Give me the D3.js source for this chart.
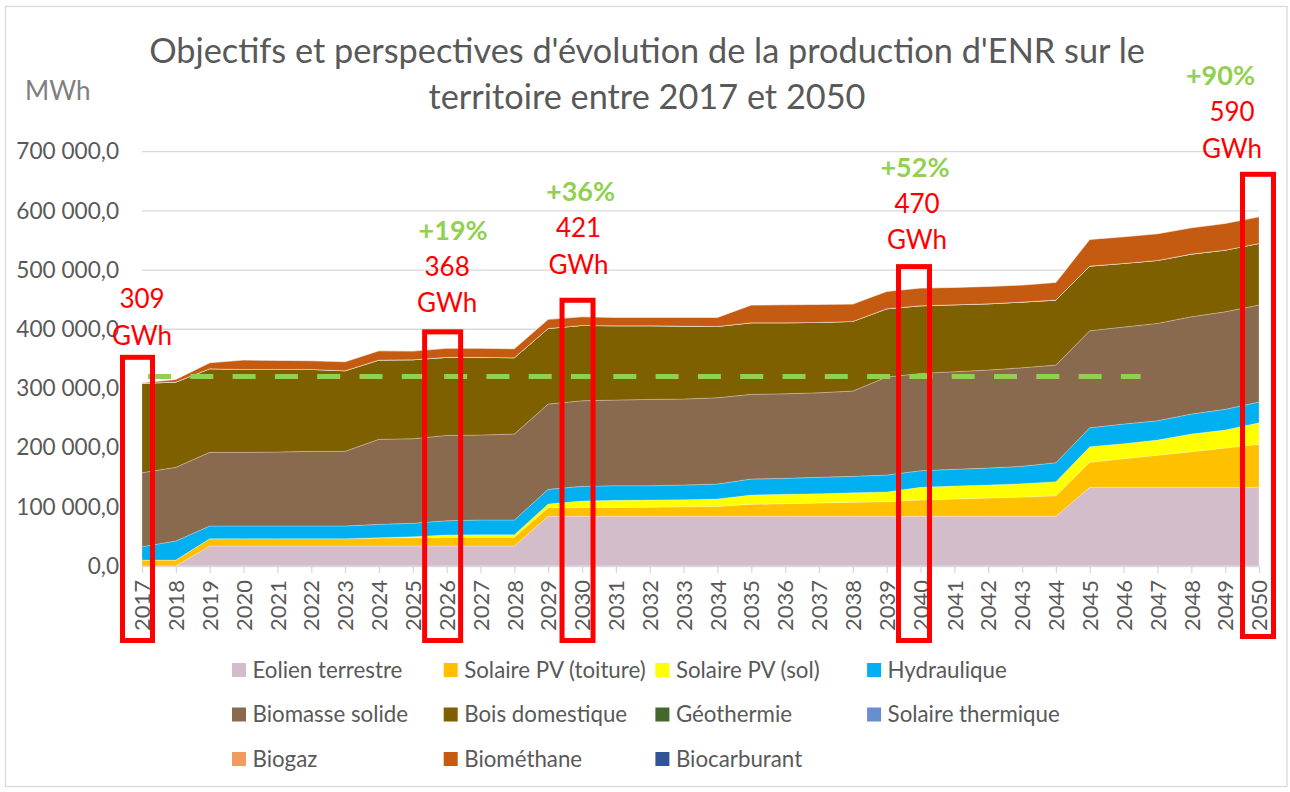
<!DOCTYPE html>
<html>
<head>
<meta charset="utf-8">
<script src="https://cdn.jsdelivr.net/npm/d3@7"></script>
<style>
	body { margin: 0; background: #fff; }
	svg text { font-family: Lato, 'Open Sans', sans-serif; }
</style>
</head>
<body>
<svg id="chart" width="1290" height="792"></svg>
<script>
// Data (MWh)

let years = [2017, 2018, 2019, 2020, 2021, 2022, 2023, 2024, 2025, 2026, 2027, 2028, 2029, 2030, 2031, 2032, 2033,
	2034, 2035, 2036, 2037, 2038, 2039, 2040, 2041, 2042, 2043, 2044, 2045, 2046, 2047, 2048, 2049, 2050];

let seriesNames = ['Eolien terrestre', 'Solaire PV (toiture)', 'Solaire PV (sol)', 'Hydraulique',
	'Biomasse solide', 'Bois domestique', 'Géothermie', 'Solaire thermique', 'Biogaz', 'Biométhane', 'Biocarburant'];

let eolien = [0, 0, 33800, 33800, 33800, 33800, 33800, 33800, 33800, 33800, 33800, 33800,
	84000, 84000, 84000, 84000, 84000, 84000, 84000, 84000, 84000, 84000, 84000, 84000, 84000, 84000, 84000, 84000,
	132900, 132900, 132900, 132900, 132900, 132900];
let pvToiture = [10000, 10000, 12300, 12300, 12300, 12300, 12300, 13500, 14000, 14600, 14600, 14600,
	14500, 14500, 14800, 15400, 15900, 16500, 20200, 21200, 22400, 23600, 24600, 27500, 29200, 30900, 32500, 34500,
	42200, 48400, 54100, 60200, 66400, 72600];
let pvSol = [0, 0, 0, 0, 0, 0, 0, 500, 1700, 4000, 4500, 4500,
	6200, 11300, 12100, 12100, 12100, 12700, 15700, 15900, 15700, 16200, 16400, 21400, 21900, 21900, 22500, 23900,
	26400, 25300, 25800, 29800, 30400, 36500];
let hydraulique = [22600, 32200, 21500, 21500, 21500, 21500, 21500, 22600, 22600, 24100, 24800, 24800,
	24800, 24800, 24700, 24100, 24800, 25300, 27000, 27000, 27700, 27700, 28700, 28100, 28200, 28700, 29400, 32100,
	32100, 33200, 32600, 33800, 35000, 35000];
let biomasse = [125000, 124500, 124400, 124400, 125000, 126100, 126100, 143600, 142900, 144200, 143600, 145200,
	144100, 144600, 144800, 145900, 145300, 145800, 143100, 142900, 142900, 144100, 165500, 164400, 164900, 165500, 166500, 165000,
	163900, 163900, 164500, 164400, 164800, 163800];
let bois = [151000, 144100, 141300, 140200, 139600, 138500, 136200, 134000, 133500, 131800, 131200, 129000,
	127800, 127300, 125500, 124400, 123200, 120500, 121000, 120000, 118900, 117700, 115400, 114300, 113200, 112000, 111000, 109800,
	109200, 107600, 106400, 105900, 104200, 104200];
let geothermie = [0, 0, 0, 0, 0, 0, 0, 0, 0, 0, 0, 0, 0, 0, 0, 0, 0, 0, 0, 0, 0, 0, 0, 0, 0, 0, 0, 0, 0, 0, 0, 0, 0, 0];
let solaireThermique = [0, 0, 0, 0, 0, 0, 0, 0, 0, 0, 0, 0, 0, 0, 0, 0, 0, 0, 0, 0, 0, 0, 0, 0, 0, 0, 0, 0, 0, 0, 0, 0, 0, 0];
let biogaz = [0, 0, 0, 0, 0, 0, 0, 0, 0, 0, 0, 0, 0, 0, 0, 0, 0, 0, 0, 0, 0, 0, 0, 0, 0, 0, 0, 0, 0, 0, 0, 0, 0, 0];
let biomethane = [900, 4500, 10100, 15800, 15200, 14600, 15200, 15600, 14600, 15200, 15200, 15200,
	15300, 14600, 14100, 14100, 14700, 15200, 29800, 30400, 30400, 29200, 29400, 29800, 29300, 29400, 28700, 29900,
	45100, 44900, 45000, 44400, 45100, 45000];
let biocarburant = [0, 0, 0, 0, 0, 0, 0, 0, 0, 0, 0, 0, 0, 0, 0, 0, 0, 0, 0, 0, 0, 0, 0, 0, 0, 0, 0, 0, 0, 0, 0, 0, 0, 0];

let seriesValues = [eolien, pvToiture, pvSol, hydraulique, biomasse, bois, geothermie, solaireThermique, biogaz, biomethane, biocarburant];

let yTicks = [0, 100000, 200000, 300000, 400000, 500000, 600000, 700000];

// objectif (ligne pointillée verte)
let targetValue = 320000;
let targetYears = [2017, 2046.5];

// années encadrées
let highlightYears = [2017, 2026, 2030, 2040, 2050];
let highlightGWh = [309, 368, 421, 470, 590];
let highlightGrowth = [null, 19, 36, 52, 90];

let titleLines = ['Objectifs et perspectives d\'évolution de la production d\'ENR sur le', 'territoire entre 2017 et 2050'];

// Styles / layout

let colors = ['#D4BDCA', '#FFC000', '#FFFF00', '#00B0F0', '#8A6A4F', '#7F6000', '#43682B', '#698ED0', '#F29B5E', '#C55A11', '#2F5597'];

// hand-placed boxes and labels (pixel offsets)
let annotLayout = [
	{ rectDx: -4.5, rectW: 35, lift: 28, bottom: 643, textDx: 0, pctDx: 0, gap: 10 },
	{ rectDx: -4, rectW: 41, lift: 19, bottom: 643, textDx: 0.5, pctDx: 6, gap: 17 },
	{ rectDx: -4.5, rectW: 36, lift: 19, bottom: 643, textDx: -3.5, pctDx: 2, gap: 24 },
	{ rectDx: -6.5, rectW: 36, lift: 24, bottom: 643, textDx: -3.5, pctDx: -2, gap: 15 },
	{ rectDx: -1, rectW: 36, lift: 45, bottom: 639, textDx: -27, pctDx: -11.5, gap: 14 }
];

let svg = d3.select('svg#chart');

let table = years.map(function(yr, i) {
	let row = { year: yr };
	seriesNames.forEach(function(n, k) { row[n] = seriesValues[k][i]; });
	return row;
});
let stacked = d3.stack().keys(seriesNames)(table);
let totals = table.map(function(row) { return d3.sum(seriesNames, function(n) { return row[n]; }); });

let x = d3.scaleLinear().domain([2017, 2050]).range([142, 1259]);
let y = d3.scaleLinear().domain([0, 700000]).range([566, 151.7]);
let col = d3.scaleOrdinal().domain(seriesNames).range(colors);

let fr = d3.formatLocale({ decimal: ',', thousands: ' ', grouping: [3], currency: ['', ' €'] });
let fmt = fr.format(',.1f');

// cadre
svg.append('rect')
	.attr('x', 5.5).attr('y', 6.5)
	.attr('width', 1281.5).attr('height', 780)
	.attr('fill', '#fff')
	.attr('stroke', '#D9D9D9')
	.attr('stroke-width', 1.3);

// titre
svg.append('g').selectAll('text')
	.data(titleLines)
	.enter()
	.append('text')
	.attr('x', 647)
	.attr('y', function(d, i) { return 63 + i * 46; })
	.attr('text-anchor', 'middle')
	.style('font-size', '34.3px')
	.style('fill', '#595959')
	.text(function(d) { return d; });

svg.append('text')
	.attr('x', 25).attr('y', 100)
	.style('font-size', '26px')
	.style('fill', '#7F7F7F')
	.text('MWh');

// grille
svg.append('g').selectAll('line')
	.data(yTicks.slice(1))
	.enter()
	.append('line')
	.attr('x1', x(2017)).attr('x2', x(2050))
	.attr('y1', function(d) { return y(d); })
	.attr('y2', function(d) { return y(d); })
	.attr('stroke', '#D9D9D9')
	.attr('stroke-width', 1.3);

// aires empilées
let area = d3.area()
	.x(function(d) { return x(d.data.year); })
	.y0(function(d) { return y(d[0]); })
	.y1(function(d) { return y(d[1]); });

svg.append('g').selectAll('path')
	.data(stacked)
	.enter()
	.append('path')
	.attr('d', area)
	.attr('fill', function(d) { return col(d.key); })
	.attr('stroke', 'rgba(255,255,255,0.3)')
	.attr('stroke-width', 0.8);

// objectif
svg.append('path')
	.datum(targetYears)
	.attr('d', d3.line().x(function(d) { return x(d); }).y(function() { return y(targetValue); }))
	.attr('stroke', '#92D050')
	.attr('stroke-width', 5)
	.attr('stroke-dasharray', '23 19.3')
	.attr('stroke-dashoffset', 36.3)
	.attr('fill', 'none');

// axes
let yAxis = svg.append('g')
	.attr('transform', 'translate(' + x(2017) + ',0)')
	.call(d3.axisLeft(y).tickValues(yTicks).tickFormat(fmt).tickSize(0).tickPadding(23));
yAxis.select('.domain').remove();
yAxis.selectAll('text')
	.style('font-size', '22.6px')
	.style('font-family', 'Lato, sans-serif')
	.style('fill', '#595959');

let xAxis = svg.append('g')
	.attr('transform', 'translate(0,' + y(0) + ')')
	.call(d3.axisBottom(x).tickValues(years).tickFormat(d3.format('d')).tickSize(7).tickSizeOuter(0));
xAxis.select('.domain').attr('stroke', '#D9D9D9').attr('stroke-width', 1.3);
xAxis.selectAll('.tick line').attr('stroke', '#D9D9D9').attr('stroke-width', 1.3);
xAxis.selectAll('text')
	.attr('transform', 'rotate(-90)')
	.attr('x', -14)
	.attr('y', 0)
	.attr('dy', '0.35em')
	.attr('text-anchor', 'end')
	.style('font-size', '22px')
	.style('font-family', 'Lato, sans-serif')
	.style('fill', '#595959');

// encadrés rouges + étiquettes
let annot = svg.append('g').selectAll('g')
	.data(highlightYears.map(function(yr, i) {
		return { year: yr, gwh: highlightGWh[i], growth: highlightGrowth[i], total: totals[years.indexOf(yr)], lay: annotLayout[i] };
	}))
	.enter()
	.append('g');

annot.append('rect')
	.attr('x', function(d) { return x(d.year) + d.lay.rectDx - d.lay.rectW / 2 + 2.5; })
	.attr('y', function(d) { return y(d.total) - d.lay.lift + 2.5; })
	.attr('width', function(d) { return d.lay.rectW - 5; })
	.attr('height', function(d) { return d.lay.bottom - (y(d.total) - d.lay.lift) - 5; })
	.attr('fill', 'none')
	.attr('stroke', '#FF0000')
	.attr('stroke-width', 5);

annot.append('text')
	.attr('x', function(d) { return x(d.year) + d.lay.textDx; })
	.attr('y', function(d) { return y(d.total) - d.lay.lift - d.lay.gap; })
	.attr('text-anchor', 'middle')
	.style('font-size', '26px')
	.style('fill', '#FF0000')
	.text('GWh');

annot.append('text')
	.attr('x', function(d) { return x(d.year) + d.lay.textDx; })
	.attr('y', function(d) { return y(d.total) - d.lay.lift - d.lay.gap - 36.5; })
	.attr('text-anchor', 'middle')
	.style('font-size', '26px')
	.style('fill', '#FF0000')
	.text(function(d) { return d.gwh; });

annot.filter(function(d) { return d.growth !== null; })
	.append('text')
	.attr('x', function(d) { return x(d.year) + d.lay.textDx + d.lay.pctDx; })
	.attr('y', function(d) { return y(d.total) - d.lay.lift - d.lay.gap - 72.5; })
	.attr('text-anchor', 'middle')
	.style('font-size', '27px')
	.style('font-weight', 'bold')
	.style('fill', '#92D050')
	.text(function(d) { return '+' + d.growth + '%'; });

// légende
let legend = svg.append('g').selectAll('g')
	.data(seriesNames)
	.enter()
	.append('g')
	.attr('transform', function(d, i) { return 'translate(' + (232 + (i % 4) * 211.7) + ',' + (670 + Math.floor(i / 4) * 44.5) + ')'; });

legend.append('rect')
	.attr('x', 0).attr('y', -7)
	.attr('width', 14).attr('height', 14)
	.attr('fill', function(d) { return col(d); });

legend.append('text')
	.attr('x', 20.5)
	.attr('dy', '0.35em')
	.style('font-size', '22.3px')
	.style('fill', '#595959')
	.text(function(d) { return d; });
</script>
</body>
</html>
